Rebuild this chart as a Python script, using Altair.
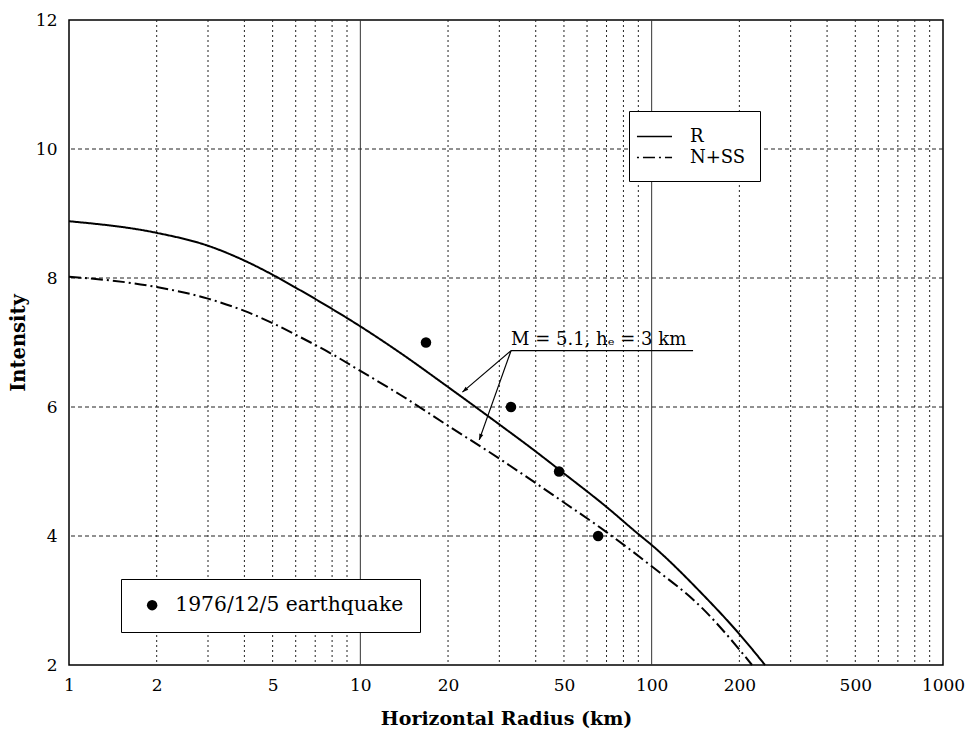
import altair as alt
import pandas as pd

# ---- data ----
dist_R = [1, 2, 3, 4, 5, 6, 8, 10, 13.7, 20, 30, 40, 50, 70, 90, 100, 150, 200, 245]
int_R = [8.88, 8.70, 8.50, 8.27, 8.05, 7.85, 7.52, 7.25, 6.84, 6.31, 5.73, 5.31, 4.97, 4.45, 4.03, 3.86, 3.09, 2.48, 2.0]
dist_NSS = [1, 2, 3, 4, 5, 6, 8, 10, 13.7, 20, 30, 40, 50, 70, 100, 150, 200, 221]
int_NSS = [8.02, 7.86, 7.68, 7.49, 7.30, 7.12, 6.82, 6.56, 6.19, 5.71, 5.20, 4.82, 4.52, 4.06, 3.53, 2.87, 2.24, 2.0]
obs_dist = [16.8, 32.9, 48.1, 65.5]
obs_int = [7.0, 6.0, 5.0, 4.0]
obs_label = "1976/12/5 earthquake"
series_names = ["R", "N+SS"]

x_tick_labels = [1, 2, 5, 10, 20, 50, 100, 200, 500, 1000]
y_tick_labels = [2, 4, 6, 8, 10, 12]
x_minor_grid = [2, 3, 4, 5, 6, 7, 8, 9, 20, 30, 40, 50, 60, 70, 80, 90,
                200, 300, 400, 500, 600, 700, 800, 900]
x_major_grid = [10, 100]
y_grid = [4, 6, 8, 10]

# annotation (data coordinates)
ann_text = "M = 5.1, h\u2091 = 3 km"
ann_start = (32.9, 6.873)
ann_end_x = 138.7
ann_tips_x = [22.4, 25.6]
ann_tips_y = [6.23, 5.49]
ann_tip_angles = [229.5, 199.7]

FONT = "DejaVu Serif"

lines_df = pd.concat([
    pd.DataFrame({"dist": dist_R, "intensity": int_R, "series": "R"}),
    pd.DataFrame({"dist": dist_NSS, "intensity": int_NSS, "series": "N+SS"}),
])
obs_df = pd.DataFrame({"dist": obs_dist, "intensity": obs_int, "label": obs_label})
xminor_df = pd.DataFrame({"dist": x_minor_grid})
xmajor_df = pd.DataFrame({"dist": x_major_grid})
ygrid_df = pd.DataFrame({"intensity": y_grid})
underline_df = pd.DataFrame({"dist": [ann_start[0]], "x2": [ann_end_x], "intensity": [ann_start[1]]})
leader_df = pd.DataFrame({
    "dist": [ann_start[0]] * 2, "intensity": [ann_start[1]] * 2,
    "x2": ann_tips_x, "y2": ann_tips_y, "angle": ann_tip_angles,
})
text_df = pd.DataFrame({"dist": [ann_start[0]], "intensity": [ann_start[1]], "t": [ann_text]})

xscale = alt.Scale(type="log", domain=[1, 1000], nice=False)
yscale = alt.Scale(domain=[2, 12], nice=False, zero=False)

xaxis = alt.Axis(values=x_tick_labels, format="d", grid=False, ticks=False, domain=False,
                 labelFlush=False, labelFont=FONT, labelFontSize=17, labelColor="black",
                 labelPadding=12, title="Horizontal Radius (km)", titleFont=FONT,
                 titleFontSize=19, titleFontWeight="bold", titleColor="black",
                 titlePadding=16)
yaxis = alt.Axis(values=y_tick_labels, grid=False, ticks=False, domain=False,
                 labelFont=FONT, labelFontSize=17, labelColor="black", labelPadding=12,
                 title="Intensity", titleFont=FONT, titleFontSize=19.5,
                 titleFontWeight="bold", titleColor="black", titlePadding=7)

X = lambda f="dist": alt.X(f"{f}:Q", scale=xscale, axis=xaxis)
Y = lambda f="intensity": alt.Y(f"{f}:Q", scale=yscale, axis=yaxis)

grid_minor = alt.Chart(xminor_df).mark_rule(color="#222", strokeWidth=1, strokeDash=[2, 3]).encode(
    x=X()
)
grid_major = alt.Chart(xmajor_df).mark_rule(color="#333", strokeWidth=1).encode(x=X())
grid_y = alt.Chart(ygrid_df).mark_rule(color="#222", strokeWidth=1, strokeDash=[4, 3]).encode(y=Y())

lines = alt.Chart(lines_df).mark_line(color="black", strokeWidth=2, interpolate="monotone").encode(
    x=X(),
    y=Y(),
    strokeDash=alt.StrokeDash("series:N",
                              scale=alt.Scale(domain=series_names, range=[[1, 0], [12, 4, 2, 4]]),
                              legend=alt.Legend(orient="none", legendX=560, legendY=91, title=None,
                                                fillColor="white", strokeColor="black", padding=14,
                                                symbolOffset=0,
                                                symbolType="M-1.67,0L1.67,0", symbolSize=441,
                                                symbolFillColor="transparent",
                                                symbolDashOffset=16,
                                                symbolStrokeWidth=1.6, symbolStrokeColor="black",
                                                labelFont=FONT, labelFontSize=18, labelColor="black",
                                                labelOffset=24, rowPadding=0, labelLimit=0)),
    detail="series:N",
)

points = alt.Chart(obs_df).mark_point(filled=True, color="black", size=110, opacity=1).encode(
    x=X(),
    y=Y(),
    shape=alt.Shape("label:N",
                    scale=alt.Scale(domain=[obs_label], range=["circle"]),
                    legend=alt.Legend(orient="none", legendX=52, legendY=559, title=None,
                                      fillColor="white", strokeColor="black", padding=16,
                                      symbolSize=110, symbolFillColor="black",
                                      symbolStrokeColor="black", symbolOffset=5,
                                      labelFont=FONT, labelFontSize=20.3, labelColor="black",
                                      labelOffset=13, labelLimit=0)),
)

underline = alt.Chart(underline_df).mark_rule(color="black", strokeWidth=1.3).encode(
    x=X(), x2="x2:Q", y=Y()
)
leaders = alt.Chart(leader_df).mark_rule(color="black", strokeWidth=1.2).encode(
    x=X(), x2="x2:Q", y=Y(), y2="y2:Q",
)
arrows = alt.Chart(leader_df).mark_point(
    filled=True, color="black", opacity=1, size=85,
    shape="M0,0L-0.45,1.3L0.45,1.3Z",
).encode(
    x=X("x2"), y=Y("y2"),
    angle=alt.Angle("angle:Q", scale=None),
)
ann = alt.Chart(text_df).mark_text(align="left", baseline="bottom", dy=-2, font=FONT,
                                   fontSize=18, color="black").encode(
    x=X(), y=Y(), text="t:N"
)

chart = alt.layer(
    grid_minor, grid_major, grid_y, lines, points, underline, leaders, arrows, ann
).properties(
    width=874, height=645,
    autosize=alt.AutoSizeParams(type="none"),
    padding={"left": 69, "top": 20, "right": 23, "bottom": 64},
    background="white",
).configure_view(stroke="black", strokeWidth=1.5)

chart.save("out.html", embed_options={"renderer": "svg", "actions": False})
